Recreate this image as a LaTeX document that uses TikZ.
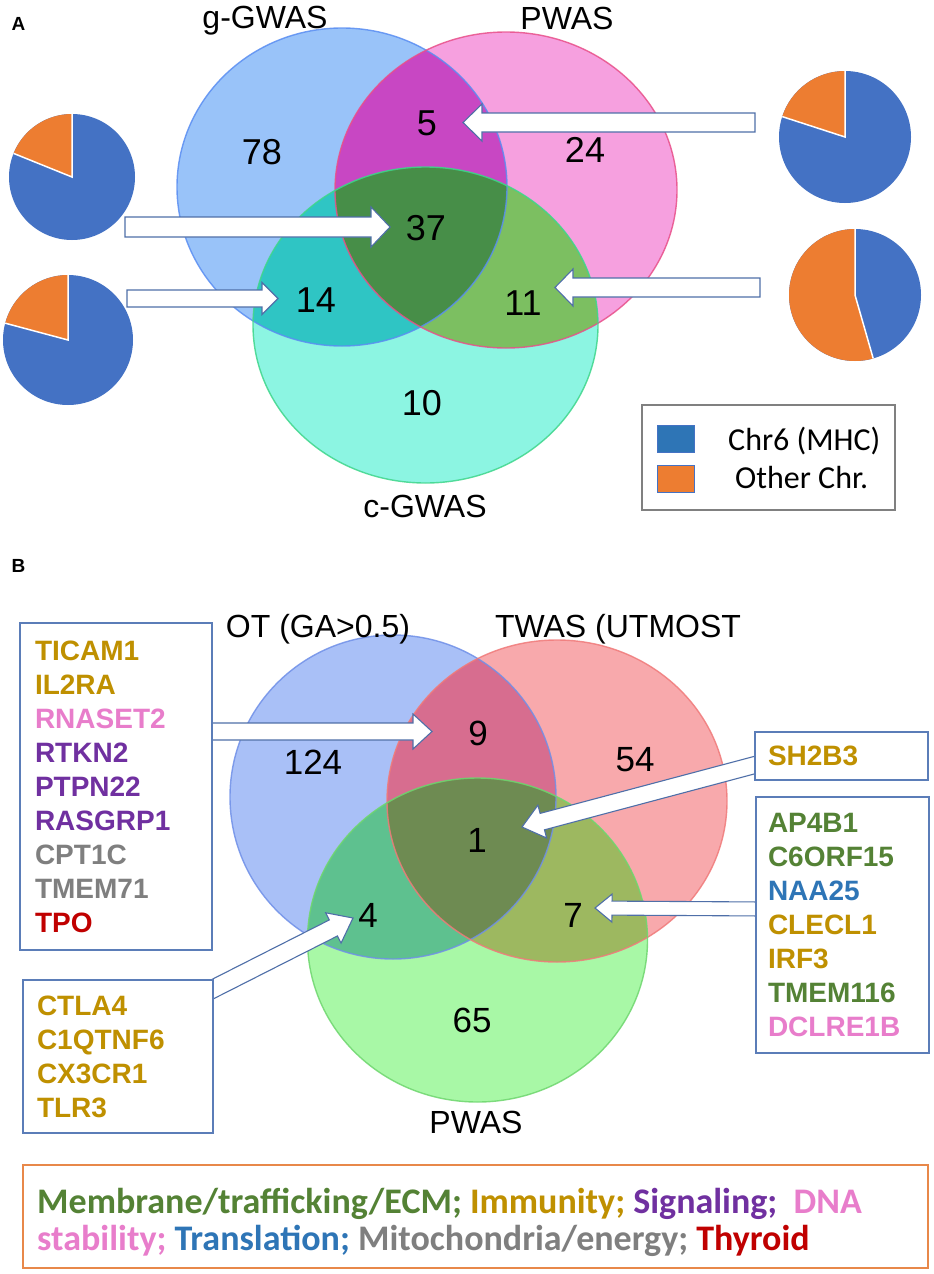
\documentclass[tikz,border=0pt]{standalone}
\usepackage{fontspec}
\setmainfont{Liberation Sans}
\newfontfamily\carl{Carlito}
\usetikzlibrary{calc}
% panel A venn colours
\definecolor{aA}{HTML}{99C3F9}
\definecolor{aB}{HTML}{F6A0DF}
\definecolor{aC}{HTML}{8CF5E2}
\definecolor{aAB}{HTML}{C847C3}
\definecolor{aAC}{HTML}{2FC5C4}
\definecolor{aBC}{HTML}{7CBF61}
\definecolor{aABC}{HTML}{478E48}
\definecolor{sA}{HTML}{5A8EF2}
\definecolor{sB}{HTML}{E8508A}
\definecolor{sC}{HTML}{3ED68B}
% panel B venn colours
\definecolor{bA}{HTML}{A9C0F7}
\definecolor{bB}{HTML}{F8A9AC}
\definecolor{bC}{HTML}{A8F8A6}
\definecolor{bAB}{HTML}{D76D8F}
\definecolor{bAC}{HTML}{5EC18F}
\definecolor{bBC}{HTML}{9DB860}
\definecolor{bABC}{HTML}{6E8B52}
\definecolor{tA}{HTML}{7090E8}
\definecolor{tB}{HTML}{F07A7A}
\definecolor{tC}{HTML}{6ED66E}
% others
\definecolor{pieblue}{HTML}{4472C4}
\definecolor{pieorange}{HTML}{ED7D31}
\definecolor{chrblue}{HTML}{2E75B6}
\definecolor{legray}{HTML}{808080}
\definecolor{legorange}{HTML}{E8884A}
\definecolor{arrowline}{HTML}{4F6FA8}
\definecolor{gboxline}{HTML}{5B7DB8}
\definecolor{imm}{HTML}{BF9000}
\definecolor{dna}{HTML}{E87DCB}
\definecolor{sig}{HTML}{7030A0}
\definecolor{mito}{HTML}{7F7F7F}
\definecolor{thy}{HTML}{C00000}
\definecolor{mem}{HTML}{548235}
\definecolor{trl}{HTML}{2E75B6}

\tikzset{
  blk/.style={fill=white, draw=arrowline, line width=1.1pt, line join=miter},
  numA/.style={font=\fontsize{36}{40}\selectfont, inner sep=0pt},
  numB/.style={font=\fontsize{35}{40}\selectfont, inner sep=0pt},
  setlabel/.style={font=\fontsize{32}{36}\selectfont, inner sep=0pt, anchor=base},
  panlab/.style={inner sep=0pt},
  gbox/.style={draw=gboxline, line width=1.2pt, fill=white, align=left,
    font=\bfseries\fontsize{28}{34}\selectfont, inner ysep=0pt},
  legtxt/.style={font=\carl\fontsize{32}{36}\selectfont, inner sep=0pt, anchor=west},
  legline/.style={font=\carl\bfseries\fontsize{36}{40}\selectfont, inner sep=0pt, anchor=base west},
}

\newcommand\blkarrow[5]{%
  \coordinate (hb) at ($(#2)!#5!(#1)$);
  \draw[blk] ($(#1)!#3!90:(#2)$) -- ($(hb)!#3!-90:(#1)$) -- ($(hb)!#4!-90:(#1)$)
    -- (#2) -- ($(hb)!#4!90:(#1)$) -- ($(hb)!#3!90:(#1)$) -- ($(#1)!#3!-90:(#2)$) -- cycle;}

\newcommand\piechart[3]{% centre, radius, end angle of orange wedge
  \fill[pieblue] (#1) circle[radius=#2];
  \fill[pieorange] (#1) -- ++(-90:#2) arc[start angle=-90, end angle=-#3, radius=#2] -- cycle;
  \draw[white, line width=1.5pt] ($(#1)+(-90:#2)$) -- (#1) -- ($(#1)+(-#3:#2)$);}

\def\cA{(342,187) ellipse [x radius=165, y radius=159]}
\def\cB{(506,190) ellipse [x radius=171, y radius=158]}
\def\cC{(425.5,325) ellipse [x radius=172.5, y radius=158]}
\def\dA{(393,797) ellipse [x radius=163, y radius=162]}
\def\dB{(557,801) ellipse [x radius=170, y radius=161]}
\def\dC{(477.5,940) ellipse [x radius=170, y radius=162]}

\begin{document}
\begin{tikzpicture}[x=1pt, y=-1pt]
\useasboundingbox[fill=white] (0,0) rectangle (934,1274);

% ================= PANEL A =================
\node[panlab] (labA) at (18.5,24) {\fontsize{19}{22}\selectfont\bfseries A};
\fill[aA] \cA; \fill[aB] \cB; \fill[aC] \cC;
\begin{scope}\clip \cA; \fill[aAB] \cB; \end{scope}
\begin{scope}\clip \cA; \fill[aAC] \cC; \end{scope}
\begin{scope}\clip \cB; \fill[aBC] \cC; \end{scope}
\begin{scope}\clip \cA; \clip \cB; \fill[aABC] \cC; \end{scope}
\draw[sA, line width=1.4pt, opacity=0.85] \cA;
\draw[sB, line width=1.4pt, opacity=0.85] \cB;
\draw[sC, line width=1.4pt, opacity=0.85] \cC;

\node[setlabel] (lgg) at (265,28) {g-GWAS};
\node[setlabel] (lpw) at (567,29) {PWAS};
\node[setlabel] (lcg) at (425,517) {c-GWAS};

\node[numA] (n78) at (262,152) {78};
\node[numA] (n5)  at (427,123) {5};
\node[numA] (n24) at (585,150) {24};
\node[numA] (n37) at (426,228) {37};
\node[numA] (n14) at (316,300) {14};
\node[numA] (n11) at (523,303) {11};
\node[numA] (n10) at (422,403) {10};

% pies
\coordinate (p1) at (72,177);
\coordinate (p2) at (68,340);
\coordinate (p3) at (845,137);
\coordinate (p4) at (855,295);
\piechart{p1}{63}{158}
\piechart{p2}{65}{165}
\piechart{p3}{66}{162}
\piechart{p4}{66}{286}

% arrows A
\coordinate (a1s) at (125,227);   \coordinate (a1t) at (390,227);
\coordinate (a2s) at (127,298.5); \coordinate (a2t) at (278,298.5);
\coordinate (a3s) at (755,122.5); \coordinate (a3t) at (463,122.5);
\coordinate (a4s) at (760,287.5); \coordinate (a4t) at (555,287.5);
\blkarrow{a1s}{a1t}{10pt}{20pt}{19pt}
\blkarrow{a2s}{a2t}{8.5pt}{16pt}{16pt}
\blkarrow{a3s}{a3t}{9.5pt}{18.5pt}{19pt}
\blkarrow{a4s}{a4t}{9.5pt}{18.5pt}{18pt}

% legend A
\node[draw=legray, line width=1.3pt, minimum width=253pt, minimum height=105pt, inner sep=0pt] (legA) at (768.5,457.5) {};
\node[fill=chrblue, draw=pieblue, line width=0.8pt, minimum width=37pt, minimum height=27pt, inner sep=0pt] (sqB) at (675.5,439) {};
\node[fill=pieorange, draw=pieblue, line width=0.8pt, minimum width=37pt, minimum height=27pt, inner sep=0pt] (sqO) at (675.5,479) {};
\node[legtxt] (tB) at (728,441) {Chr6 (MHC)};
\node[legtxt] (tO) at (735,478) {Other Chr.};

% ================= PANEL B =================
\node[panlab] (labB) at (18.5,566) {\fontsize{19}{22}\selectfont\bfseries B};
\fill[bA] \dA; \fill[bB] \dB; \fill[bC] \dC;
\begin{scope}\clip \dA; \fill[bAB] \dB; \end{scope}
\begin{scope}\clip \dA; \fill[bAC] \dC; \end{scope}
\begin{scope}\clip \dB; \fill[bBC] \dC; \end{scope}
\begin{scope}\clip \dA; \clip \dB; \fill[bABC] \dC; \end{scope}
\draw[tA, line width=1.4pt, opacity=0.85] \dA;
\draw[tB, line width=1.4pt, opacity=0.85] \dB;
\draw[tC, line width=1.4pt, opacity=0.85] \dC;

\node[setlabel] (lot) at (318,637) {OT (GA>0.5)};
\node[setlabel] (ltw) at (618,637) {TWAS (UTMOST};
\node[setlabel] (lpb) at (476,1133) {PWAS};

\node[numB] (m124) at (313,762) {124};
\node[numB] (m9)   at (478,733) {9};
\node[numB] (m54)  at (635,760) {54};
\node[numB] (m1)   at (477,840) {1};
\node[numB] (m4)   at (368,915) {4};
\node[numB] (m7)   at (573,915) {7};
\node[numB] (m65)  at (472,1020) {65};

% arrows B (drawn before boxes)
\coordinate (b1s) at (205,731.5); \coordinate (b1t) at (432,731.5);
\coordinate (b2s) at (205,993);   \coordinate (b2t) at (353,918);
\coordinate (b3s) at (765,762.3); \coordinate (b3t) at (522,827);
\coordinate (b4s) at (765,909);   \coordinate (b4t) at (595,908);
\blkarrow{b1s}{b1t}{8.5pt}{17.5pt}{19pt}
\blkarrow{b2s}{b2t}{9pt}{17pt}{22pt}
\blkarrow{b3s}{b3t}{8.5pt}{17pt}{21pt}
\blkarrow{b4s}{b4t}{7pt}{14pt}{17pt}

% gene boxes
\node[gbox, minimum width=192pt, minimum height=327pt, text width=162pt, inner xsep=15pt] (gL) at (116,786.5)
 {\color{imm}TICAM1\\ \color{imm}IL2RA\\ \color{dna}RNASET2\\ \color{sig}RTKN2\\ \color{sig}PTPN22\\
  \color{sig}RASGRP1\\ \color{mito}CPT1C\\ \color{mito}TMEM71\\ \color{thy}TPO};
\node[gbox, minimum width=190pt, minimum height=153pt, text width=162pt, inner xsep=14pt] (gLB) at (118,1056.5)
 {\color{imm}CTLA4\\ \color{imm}C1QTNF6\\ \color{imm}CX3CR1\\ \color{imm}TLR3};
\node[gbox, minimum width=173pt, minimum height=48pt, text width=147pt, inner xsep=13pt] (gR1) at (841.5,756)
 {\color{imm}SH2B3};
\node[gbox, minimum width=173pt, minimum height=256pt, text width=149pt, inner xsep=12pt] (gR2) at (842.5,925)
 {\color{mem}AP4B1\\ \color{mem}C6ORF15\\ \color{trl}NAA25\\ \color{imm}CLECL1\\ \color{imm}IRF3\\
  \color{mem}TMEM116\\ \color{dna}DCLRE1B};

% category legend
\node[draw=legorange, line width=1.5pt, minimum width=905pt, minimum height=103pt, inner sep=0pt] (legB) at (475.5,1216.5) {};
\node[legline] (leg1) at (37,1213) {\color{mem}Membrane/trafficking/ECM; \color{imm}Immunity; \color{sig}Signaling;\ \ \color{dna}DNA};
\node[legline] (leg2) at (37,1250) {\color{dna}stability; \color{trl}Translation; \color{mito}Mitochondria/energy; \color{thy}Thyroid};
\end{tikzpicture}
\end{document}
